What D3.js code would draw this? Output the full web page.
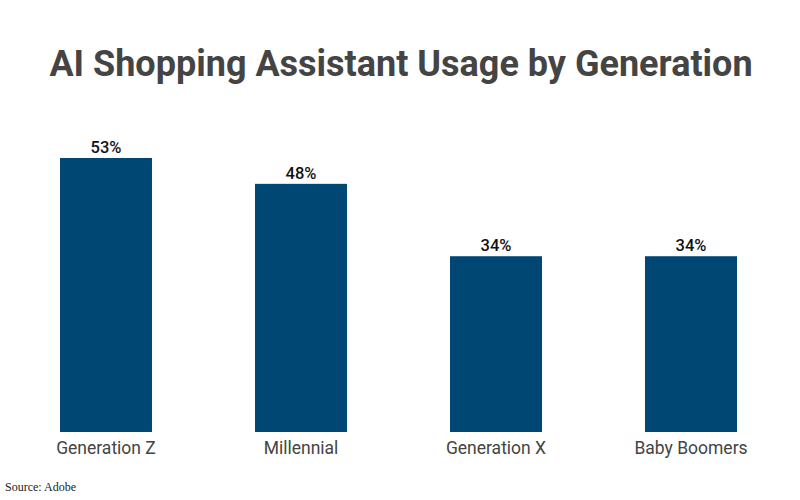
<!DOCTYPE html>
<html>
<head>
<meta charset="utf-8">
<script src="https://cdn.jsdelivr.net/npm/d3@7"></script>
<style>
  body { margin: 0; background: #fff; }
</style>
</head>
<body>
<div id="chart"></div>
<script>
// 数据
const categories = ["Generation Z", "Millennial", "Generation X", "Baby Boomers"];
const usage = [53, 48, 34, 34];
const valueLabels = ["53%", "48%", "34%", "34%"];

const width = 800;
const height = 500;

const svg = d3.select("#chart")
    .append("svg")
    .attr("width", width)
    .attr("height", height);

// 比例尺
const x = d3.scaleBand()
    .domain(categories)
    .range([8.5, 788.5])
    .paddingInner(0.528)
    .paddingOuter(0.264);

const y = d3.scaleLinear()
    .domain([0, 60])
    .range([432, 121.8]);

// 标题
svg.append("text")
    .attr("x", 401)
    .attr("y", 76)
    .attr("text-anchor", "middle")
    .attr("fill", "#444")
    .style("font-family", "Roboto, sans-serif")
    .style("font-weight", "bold")
    .style("font-size", "36px")
    .text("AI Shopping Assistant Usage by Generation");

// 柱子
svg.selectAll(".bar")
    .data(usage)
    .join("rect")
    .attr("class", "bar")
    .attr("x", (d, i) => x(categories[i]))
    .attr("y", d => y(d))
    .attr("width", x.bandwidth())
    .attr("height", d => y(0) - y(d))
    .attr("fill", "#004873");

// 数值标签
svg.selectAll(".val")
    .data(usage)
    .join("text")
    .attr("class", "val")
    .attr("x", (d, i) => x(categories[i]) + x.bandwidth() / 2)
    .attr("y", d => y(d) - 5)
    .attr("text-anchor", "middle")
    .attr("fill", "#111")
    .style("font-family", "Roboto, sans-serif")
    .style("font-weight", "500")
    .style("font-size", "16.5px")
    .text((d, i) => valueLabels[i]);

// X 轴标签
svg.selectAll(".cat")
    .data(categories)
    .join("text")
    .attr("class", "cat")
    .attr("x", d => x(d) + x.bandwidth() / 2)
    .attr("y", 454)
    .attr("text-anchor", "middle")
    .attr("fill", "#444")
    .style("font-family", "Roboto, sans-serif")
    .style("font-size", "17.5px")
    .text(d => d);

// 来源
svg.append("text")
    .attr("x", 5)
    .attr("y", 491)
    .attr("fill", "#222")
    .style("font-family", "'Liberation Serif', serif")
    .style("font-size", "12px")
    .text("Source: Adobe");
</script>
</body>
</html>
